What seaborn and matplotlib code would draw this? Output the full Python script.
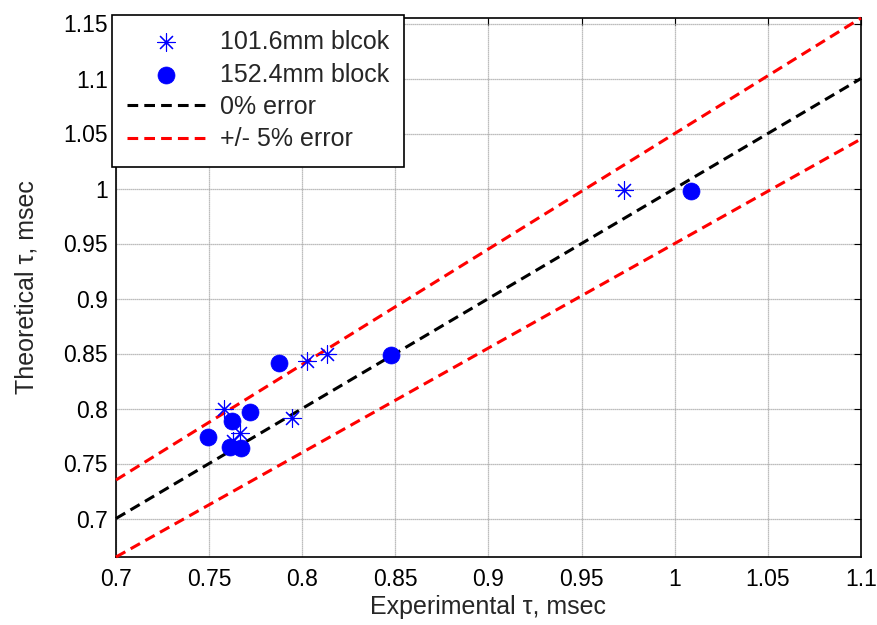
import matplotlib
matplotlib.use("Agg")
import matplotlib.pyplot as plt
import seaborn as sns
import numpy as np
import pandas as pd

# Data
exp_101 = [0.9726, 0.8133, 0.8026, 0.7580, 0.7666, 0.7943, 0.7627]
theo_101 = [0.9990, 0.8496, 0.8430, 0.7997, 0.7780, 0.7918, 0.7707]
exp_152 = [1.0087, 0.7877, 0.8477, 0.7720, 0.7621, 0.7496, 0.7612, 0.7670]
theo_152 = [0.9973, 0.8417, 0.8487, 0.7964, 0.7889, 0.7743, 0.7646, 0.7637]
line_x = [0.7, 1.1]
err_factors = {"0%": 1.00, "+5%": 1.05, "-5%": 0.95}
x_ticks = [0.7, 0.75, 0.8, 0.85, 0.9, 0.95, 1.0, 1.05, 1.1]
x_ticklabels = ["0.7", "0.75", "0.8", "0.85", "0.9", "0.95", "1", "1.05", "1.1"]
y_ticks = [0.7, 0.75, 0.8, 0.85, 0.9, 0.95, 1.0, 1.05, 1.1, 1.15]
y_ticklabels = ["0.7", "0.75", "0.8", "0.85", "0.9", "0.95", "1", "1.05", "1.1", "1.15"]

sns.set_style("white")
plt.rcParams['font.family'] = ['Liberation Sans', 'DejaVu Sans']

fig = plt.figure(figsize=(8.77, 6.25), dpi=100)
ax = fig.add_axes([116/877, 68/625, 745/877, 539/625])

df101 = pd.DataFrame({"x": exp_101, "y": theo_101})
df152 = pd.DataFrame({"x": exp_152, "y": theo_152})

sns.scatterplot(data=df101, x="x", y="y", ax=ax, marker=(8, 2, 0), s=160,
                color="#0000ff", edgecolor="#0000ff", linewidth=0.8,
                label="101.6mm blcok", zorder=4)
sns.scatterplot(data=df152, x="x", y="y", ax=ax, marker="o", s=150,
                color="#0000ff", edgecolor="#0000ff", linewidth=0.5,
                label="152.4mm block", zorder=4)

lx = np.array(line_x)
df0 = pd.DataFrame({"x": lx, "y": lx * err_factors["0%"]})
dfp = pd.DataFrame({"x": lx, "y": lx * err_factors["+5%"]})
dfm = pd.DataFrame({"x": lx, "y": lx * err_factors["-5%"]})
sns.lineplot(data=df0, x="x", y="y", ax=ax, color="black", lw=2.2,
             label="0% error", zorder=3)
sns.lineplot(data=dfp, x="x", y="y", ax=ax, color="red", lw=2.2,
             label="+/- 5% error", zorder=3)
sns.lineplot(data=dfm, x="x", y="y", ax=ax, color="red", lw=2.2, zorder=3)
for ln in ax.get_lines():
    ln.set_linestyle((0, (3.5, 2.0)))
    ln.set_clip_on(False)

ax.set_xlim(0.7, 1.1)
ax.set_ylim(0.665, 1.155)
ax.set_xticks(x_ticks)
ax.set_xticklabels(x_ticklabels)
ax.set_yticks(y_ticks)
ax.set_yticklabels(y_ticklabels)
ax.tick_params(direction="in", length=5, width=0.8, top=True, right=True,
               labelsize=16.5, colors="black")
ax.tick_params(axis="x", pad=8)
ax.tick_params(axis="y", pad=6)
ax.grid(True, color="#a8a8a8", linestyle=(0, (1, 0.6)), linewidth=0.9)
ax.set_axisbelow(True)
for sp in ax.spines.values():
    sp.set_color("black")
    sp.set_linewidth(1.2)
    sp.set_visible(True)

ax.set_xlabel("Experimental τ, msec", fontsize=18, labelpad=3)
ax.set_ylabel("Theoretical τ, msec", fontsize=18, labelpad=18)

handles, labels = ax.get_legend_handles_labels()
leg = ax.legend(handles[:4], labels[:4], loc="upper left",
                bbox_to_anchor=(112/877, 1 - 15/625), bbox_transform=fig.transFigure,
                borderaxespad=0, frameon=True, fancybox=False, framealpha=1,
                edgecolor="black", handlelength=3.1, handletextpad=0.6,
                labelspacing=0.34, borderpad=0.6,
                prop={"family": ["Liberation Sans", "DejaVu Sans"], "size": 18})
leg.get_frame().set_linewidth(1.2)
leg.set_zorder(10)

fig.savefig("out.png", dpi=100)
